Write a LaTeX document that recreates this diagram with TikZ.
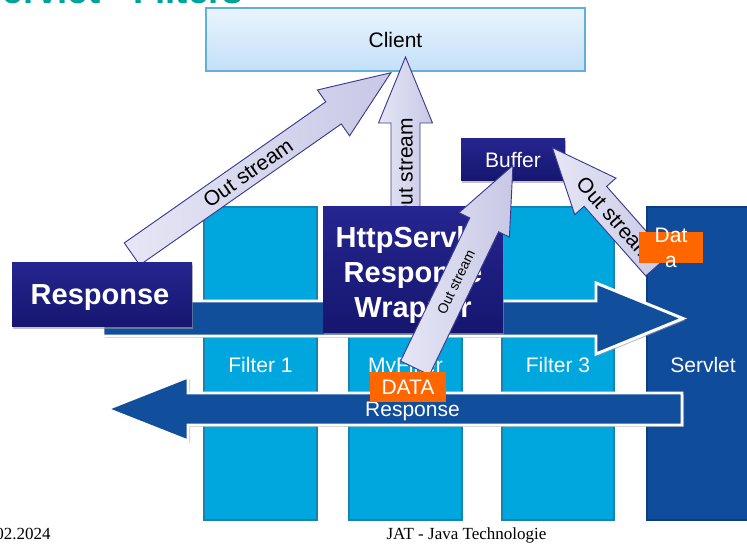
\documentclass[tikz,border=0pt]{standalone}
\usepackage{fontspec}
\setmainfont{Liberation Sans}
\newfontfamily\footerfont{Liberation Serif}
\usetikzlibrary{shadows}

\definecolor{filtercyan}{HTML}{00A6DE}
\definecolor{filteredge}{HTML}{1585B0}
\definecolor{servletblue}{HTML}{0F4C9B}
\definecolor{flowblue}{HTML}{114E9C}
\definecolor{navytop}{HTML}{25258F}
\definecolor{navybot}{HTML}{161670}
\definecolor{dataorange}{HTML}{FF6600}
\definecolor{streamtop}{HTML}{E6E6F5}
\definecolor{streambot}{HTML}{C8C8E6}
\definecolor{streamedge}{HTML}{3B3B8E}
\definecolor{clienttop}{HTML}{E9F4FD}
\definecolor{clientbot}{HTML}{C4E0F8}
\definecolor{clientedge}{HTML}{62AEDC}
\definecolor{titleteal}{HTML}{00A398}

\tikzset{
  filtercol/.style={fill=filtercyan, draw=filteredge, line width=0.8pt},
  servletcol/.style={fill=servletblue, draw=servletblue!80!black, line width=0.8pt},
  flowarrow/.style={fill=flowblue, draw=white, line width=2.2pt,
    drop shadow={shadow xshift=1.5pt, shadow yshift=-1.5pt, fill=black!40, opacity=0.6}},
  navybox/.style={top color=navytop, bottom color=navybot, draw=none,
    drop shadow={shadow xshift=1pt, shadow yshift=-1.5pt, fill=black!40, opacity=0.6}},
  clientbox/.style={top color=clienttop, bottom color=clientbot, draw=clientedge, line width=0.8pt,
    drop shadow={shadow xshift=1pt, shadow yshift=-1pt, fill=black!30, opacity=0.5}},
  orangebox/.style={fill=dataorange, draw=none},
  streamshape/.style={left color=streamtop, right color=streambot, draw=streamedge, line width=0.7pt},
  whitetext/.style={text=white, inner sep=0pt},
  collabel/.style={whitetext, font=\fontsize{15.75}{18}\selectfont, anchor=base},
  streamlabel/.style={text=black, inner sep=0pt, font=\fontsize{15.75}{18}\selectfont},
  pics/streamarrow/.style args={#1/#2/#3/#4}{code={%
    \path[streamshape] (0,-#2/2) -- ({#1-#4},-#2/2) -- ({#1-#4},-#3/2) -- (#1,0)
      -- ({#1-#4},#3/2) -- ({#1-#4},#2/2) -- (0,#2/2) -- cycle;}}
}

\begin{document}
\begin{tikzpicture}[x=0.75pt,y=-0.75pt]
\useasboundingbox (0,0) rectangle (747,545);
\clip (0,0) rectangle (747,545);

% slide title, only its lower edge lies inside the frame
\node[anchor=base west, text=titleteal, inner sep=0pt,
      font=\bfseries\fontsize{27.5}{30}\selectfont] (title) at (-22,4) {Servlet - Filters};

% client
\path[clientbox] (206,8) rectangle (585,71);
\node[anchor=base, inner sep=0pt, font=\fontsize{15.75}{18}\selectfont] (client) at (395.5,48) {Client};

% filter chain columns
\path[filtercol] (204,207) rectangle (317,520);
\path[filtercol] (349,207) rectangle (462,520);
\path[filtercol] (502,207) rectangle (614,520);
\path[servletcol] (647,207) rectangle (760,520);
\node[collabel] (filter1) at (260.5,372.5) {Filter 1};
\node[collabel] (myfilter) at (405.5,372.5) {MyFilter};
\node[collabel] (filter3) at (558,372.5) {Filter 3};
\node[collabel] (servlet) at (703,372.5) {Servlet};

% output streams towards the client
\pic[rotate=35] at (132,254) {streamarrow=316/27/56/70};
\node[streamlabel, rotate=35] (os1) at (248,173) {Out stream};
\pic[rotate=90] at (405.5,230) {streamarrow=173/29/54/66};
\node[streamlabel, rotate=90] (os2) at (405.5,170) {Out stream};

% request and response flow
\path[flowarrow] (103,301) -- (596,301) -- (596,283) -- (683,318.5) -- (596,354)
  -- (596,336) -- (103,336) -- cycle;
\path[flowarrow] (682,393) -- (188,393) -- (188,377) -- (107,409) -- (188,441)
  -- (188,425) -- (682,425) -- cycle;
\node[whitetext, anchor=base, font=\fontsize{15.75}{18}\selectfont] (resplabel) at (412.5,417) {Response};

% response objects
\path[navybox] (12,263) rectangle (192,327);
\node[whitetext, anchor=base, font=\bfseries\fontsize{21.75}{26}\selectfont] (response) at (100,305) {Response};
\path[navybox] (323,207) rectangle (503,333);
\node[whitetext, anchor=north, align=center, font=\bfseries\fontsize{21.75}{26.25}\selectfont] (wrapper) at (413,226) {HttpServlet\\Response\\Wrapper};
\path[navybox] (461,139) rectangle (565,181);
\node[whitetext, anchor=base, font=\fontsize{15.75}{18}\selectfont] (buffer) at (513,168) {Buffer};

% streams into the buffer
\pic[rotate=64.2] at (415,368) {streamarrow=225/32/56/66};
\node[streamlabel, rotate=64.2, font=\fontsize{10.5}{12}\selectfont] (os3) at (456,282) {Out stream};
\pic[rotate=131.5] at (657,266) {streamarrow=158/30/55/65};
\node[streamlabel, rotate=-48.5] (os4) at (615,219) {Out stream};

% data chunks
\path[orangebox] (370,372) rectangle (446,402);
\node[whitetext, anchor=base, font=\fontsize{15.75}{18}\selectfont] (data1) at (408,395) {DATA};
\path[orangebox] (639,232) rectangle (703,263);
\node[whitetext, anchor=north, align=center, font=\fontsize{15.75}{18.75}\selectfont] (data2) at (671,228) {Dat\\a};

% footer
\node[anchor=base east, inner sep=0pt, font=\footerfont\fontsize{12.75}{15}\selectfont] (date) at (51,539) {02.2024};
\node[anchor=base, inner sep=0pt, font=\footerfont\fontsize{12.75}{15}\selectfont] (course) at (466.5,539) {JAT - Java Technologie};
\end{tikzpicture}
\end{document}
